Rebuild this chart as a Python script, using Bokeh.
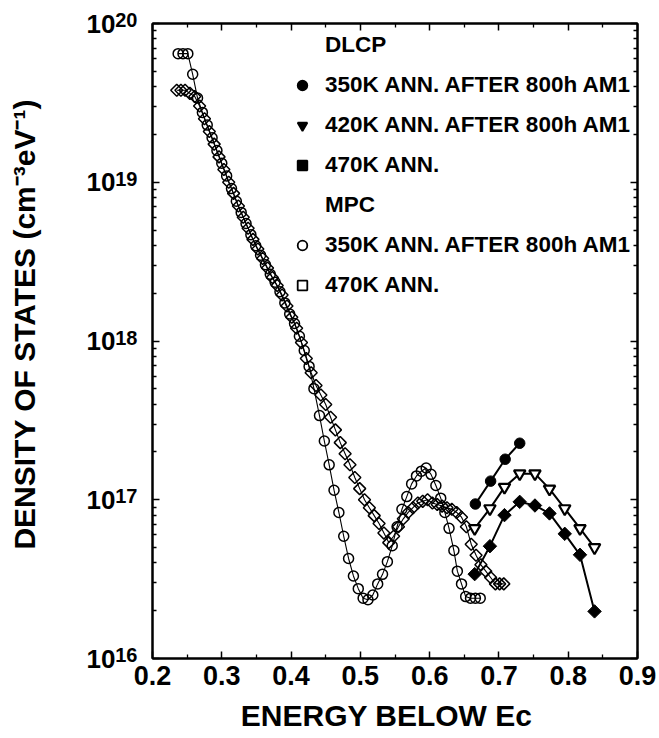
import numpy as np
from bokeh.plotting import figure
from bokeh.models import (ColumnDataSource, FixedTicker, LogAxis, LinearAxis,
                          Legend, LegendItem, CustomJSTickFormatter, Range1d)
from bokeh.embed import file_html
from bokeh.resources import INLINE

FONT = "Liberation Sans"

# ---------------- data ----------------
# MPC, 350K ANN. AFTER 800h AM1 (open circles): energy (eV) and log10 of DOS
mpc350_energy = [0.237, 0.244, 0.251, 0.258, 0.265, 0.272, 0.279, 0.286, 0.293, 0.300,
                 0.307, 0.314, 0.321, 0.328, 0.335, 0.342, 0.349, 0.356, 0.363, 0.370,
                 0.377, 0.384, 0.391, 0.398, 0.405, 0.412, 0.419, 0.426, 0.433,
                 0.441, 0.448, 0.455, 0.462, 0.469, 0.476, 0.483, 0.490, 0.497, 0.504,
                 0.511, 0.518, 0.525, 0.532, 0.539, 0.546, 0.553, 0.560, 0.567, 0.574,
                 0.581, 0.588, 0.595, 0.602, 0.609, 0.616,
                 0.622, 0.628, 0.635, 0.640, 0.646, 0.652, 0.659, 0.666, 0.673]
mpc350_log10 = [19.81, 19.81, 19.81, 19.68, 19.53, 19.44, 19.36, 19.28, 19.20, 19.12,
                19.04, 18.96, 18.88, 18.81, 18.74, 18.67, 18.60, 18.54, 18.48, 18.42,
                18.37, 18.31, 18.24, 18.17, 18.11, 18.03, 17.94, 17.84, 17.70,
                17.53, 17.37, 17.22, 17.06, 16.92, 16.77, 16.63, 16.52, 16.44, 16.38,
                16.37, 16.40, 16.47, 16.53, 16.61, 16.71, 16.83, 16.94, 17.02, 17.10,
                17.15, 17.18, 17.20, 17.16, 17.09, 17.01,
                16.92, 16.82, 16.68, 16.55, 16.47, 16.39, 16.38, 16.38, 16.38]

# MPC, 470K ANN. (open diamonds)
mpc470_energy = [0.235, 0.241, 0.247, 0.254, 0.261, 0.268, 0.275, 0.282, 0.289, 0.296,
                 0.303, 0.310, 0.317, 0.324, 0.331, 0.338, 0.345, 0.352, 0.359, 0.366,
                 0.373, 0.380, 0.387, 0.394, 0.401, 0.408, 0.415, 0.422, 0.429, 0.436,
                 0.443, 0.450, 0.457, 0.464, 0.471, 0.478, 0.485, 0.492, 0.499, 0.506,
                 0.513, 0.520, 0.527, 0.534, 0.541, 0.548, 0.555, 0.562, 0.569, 0.576,
                 0.583, 0.590, 0.597, 0.604, 0.611, 0.618, 0.625, 0.632, 0.639, 0.646,
                 0.653, 0.660, 0.667, 0.674, 0.681, 0.688, 0.695, 0.701, 0.707]
mpc470_log10 = [19.58, 19.58, 19.58, 19.56, 19.54, 19.48, 19.40, 19.32, 19.24, 19.16,
                19.08, 19.00, 18.93, 18.85, 18.78, 18.71, 18.64, 18.58, 18.52, 18.46,
                18.40, 18.35, 18.29, 18.22, 18.15, 18.08, 17.99, 17.89, 17.80, 17.72,
                17.66, 17.60, 17.52, 17.44, 17.36, 17.29, 17.22, 17.14, 17.07, 17.00,
                16.95, 16.90, 16.85, 16.79, 16.73, 16.77, 16.83, 16.88, 16.92, 16.95,
                16.98, 16.99, 17.00, 16.98, 16.97, 16.96, 16.95, 16.94, 16.92, 16.89,
                16.83, 16.72, 16.65, 16.59, 16.55, 16.51, 16.47, 16.47, 16.47]

# DLCP
dlcp350_energy = [0.666, 0.688, 0.709, 0.730]
dlcp350_dos = [9.4e16, 1.31e17, 1.80e17, 2.27e17]
dlcp_energy = [0.665, 0.687, 0.708, 0.730, 0.752, 0.773, 0.795, 0.817, 0.838]
dlcp420_dos = [6.6e16, 8.8e16, 1.20e17, 1.46e17, 1.46e17, 1.17e17, 8.8e16, 6.6e16, 5.0e16]
dlcp470_dos = [3.4e16, 5.1e16, 8.0e16, 9.7e16, 9.2e16, 8.2e16, 6.1e16, 4.5e16, 1.98e16]

# ticks / labels
x_major = [0.2, 0.3, 0.4, 0.5, 0.6, 0.7, 0.8, 0.9]
x_minor = [0.25, 0.35, 0.45, 0.55, 0.65, 0.75, 0.85]
y_decades = [16, 17, 18, 19, 20]
y_minor_mult = [2, 3, 4, 5, 6, 7, 8, 9]
legend_labels = ["DLCP", "350K ANN. AFTER 800h AM1", "420K ANN. AFTER 800h AM1",
                 "470K ANN.", "MPC", "350K ANN. AFTER 800h AM1", "470K ANN."]
x_title = "ENERGY BELOW Ec\u00a0\u00a0"
y_title = "\u00a0\u00a0\u00a0\u00a0DENSITY OF STATES (cm\u207b\u00b3eV\u207b\u00b9)"

y_major = [10.0 ** d for d in y_decades]
y_minor = [m * 10.0 ** d for d in y_decades[:-1] for m in y_minor_mult]

# ---------------- figure ----------------
p = figure(width=659, height=738, x_range=Range1d(0.2, 0.9), y_range=Range1d(1e16, 1e20),
           y_axis_type="log", output_backend="svg", toolbar_location=None,
           min_border_left=152, min_border_right=22, min_border_top=23, min_border_bottom=80)
p.xgrid.visible = False
p.ygrid.visible = False
p.outline_line_color = "black"
p.outline_line_width = 2
p.background_fill_color = "white"
p.border_fill_color = "white"

blank = CustomJSTickFormatter(code="return ''")


def style_axis(ax):
    ax.axis_line_color = "black"
    ax.axis_line_width = 2
    ax.major_tick_in = 7
    ax.major_tick_out = 0
    ax.minor_tick_in = 4
    ax.minor_tick_out = 0
    ax.major_tick_line_color = "black"
    ax.minor_tick_line_color = "black"
    ax.major_tick_line_width = 1.5
    ax.minor_tick_line_width = 1.3


# bottom axis: tick labels + title
xax = p.xaxis[0]
xax.ticker = FixedTicker(ticks=x_major, minor_ticks=x_minor)
style_axis(xax)
xax.major_label_text_font = FONT
xax.major_label_text_font_style = "bold"
xax.major_label_text_font_size = "27px"
xax.major_label_text_color = "black"
xax.major_label_standoff = 7
xax.axis_label = x_title
xax.axis_label_text_font = FONT
xax.axis_label_text_font_style = "bold"
xax.axis_label_text_font_size = "30px"
xax.axis_label_text_color = "black"
xax.axis_label_standoff = 11

# left axis (next to frame): ticks + the exponent of each decade (raised superscript)
yax = p.yaxis[0]
yax.ticker = FixedTicker(ticks=y_major, minor_ticks=y_minor)
yax.formatter = CustomJSTickFormatter(
    code="return Math.round(Math.log10(tick)).toString() + '\\n '")
style_axis(yax)
yax.major_label_text_font = FONT
yax.major_label_text_font_style = "bold"
yax.major_label_text_font_size = "20px"
yax.major_label_text_line_height = 0.3
yax.major_label_text_color = "black"
yax.major_label_standoff = 15

# outer left axis: the "10" base of each tick label and the axis title
base = LogAxis(ticker=FixedTicker(ticks=y_major, minor_ticks=[]),
               formatter=CustomJSTickFormatter(code="return '10'"))
base.axis_line_color = None
base.major_tick_line_color = None
base.minor_tick_line_color = None
base.major_tick_in = 0
base.major_tick_out = 0
base.major_label_standoff = -3
base.major_label_text_font = FONT
base.major_label_text_font_style = "bold"
base.major_label_text_font_size = "26px"
base.major_label_text_color = "black"
base.axis_label = y_title
base.axis_label_text_font = FONT
base.axis_label_text_font_style = "bold"
base.axis_label_text_font_size = "30px"
base.axis_label_text_color = "black"
base.axis_label_standoff = 43
p.add_layout(base, "left")

top = LinearAxis(ticker=FixedTicker(ticks=x_major, minor_ticks=x_minor), formatter=blank)
style_axis(top)
p.add_layout(top, "above")
right = LogAxis(ticker=FixedTicker(ticks=y_major, minor_ticks=y_minor), formatter=blank)
style_axis(right)
p.add_layout(right, "right")

# ---------------- data glyphs ----------------
mpc350 = ColumnDataSource(dict(x=mpc350_energy, y=[10 ** v for v in mpc350_log10]))
mpc470 = ColumnDataSource(dict(x=mpc470_energy, y=[10 ** v for v in mpc470_log10]))

p.line("x", "y", source=mpc470, line_color="black", line_width=1.1)
p.line("x", "y", source=mpc350, line_color="black", line_width=1.1)
p.scatter("x", "y", source=mpc470, marker="square", angle=np.pi / 4, size=8.5,
          fill_color=None, line_color="black", line_width=1.5)
p.scatter("x", "y", source=mpc350, marker="circle", size=10,
          fill_color=None, line_color="black", line_width=1.5)

p.line(dlcp350_energy, dlcp350_dos, line_color="black", line_width=2)
p.scatter(dlcp350_energy, dlcp350_dos, marker="circle", size=10.5,
          fill_color="black", line_color="black")
p.line(dlcp_energy, dlcp420_dos, line_color="black", line_width=2)
p.scatter(dlcp_energy, dlcp420_dos, marker="inverted_triangle", size=11.5,
          fill_color="white", line_color="black", line_width=2.2)
p.line(dlcp_energy, dlcp470_dos, line_color="black", line_width=2)
p.scatter(dlcp_energy, dlcp470_dos, marker="square", angle=np.pi / 4, size=9.5,
          fill_color="black", line_color="black")

# ---------------- legend (hidden one-point renderers carry the legend glyphs) ----------------
def legend_glyph(xs, ys, marker, fill, show=True):
    src = ColumnDataSource(dict(x=xs[:1], y=ys[:1]))
    r = p.scatter("x", "y", source=src, marker=marker, size=9,
                  fill_color=fill, line_color="black", line_width=1.8,
                  fill_alpha=1.0 if show else 0.0, line_alpha=1.0 if show else 0.0)
    r.visible = False
    return r


mpc350_y = [10 ** v for v in mpc350_log10]
mpc470_y = [10 ** v for v in mpc470_log10]
legend_glyphs = [
    legend_glyph(dlcp350_energy, dlcp350_dos, "circle", None, show=False),
    legend_glyph(dlcp350_energy, dlcp350_dos, "circle", "black"),
    legend_glyph(dlcp_energy, dlcp420_dos, "inverted_triangle", "black"),
    legend_glyph(dlcp_energy, dlcp470_dos, "square", "black"),
    legend_glyph(mpc350_energy, mpc350_y, "circle", None, show=False),
    legend_glyph(mpc350_energy, mpc350_y, "circle", "white"),
    legend_glyph(mpc470_energy, mpc470_y, "square", "white"),
]
items = [LegendItem(label=lab, renderers=[r]) for lab, r in zip(legend_labels, legend_glyphs)]
legend = Legend(items=items, location=(138, 360), padding=0, margin=0, spacing=14,
                glyph_width=24, glyph_height=26, label_height=26, label_standoff=11,
                label_text_font=FONT, label_text_font_style="bold",
                label_text_font_size="22.5px", label_text_color="black",
                border_line_color=None, background_fill_alpha=0)
p.add_layout(legend)

open("out.html", "w").write(file_html(p, INLINE))
